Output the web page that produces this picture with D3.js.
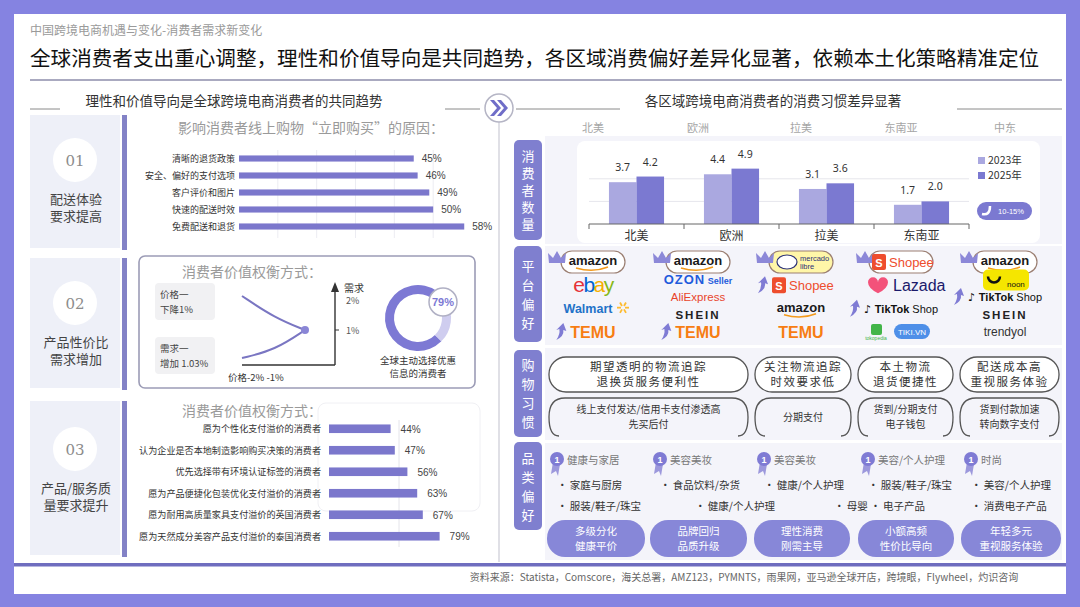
<!DOCTYPE html>
<html>
<head>
<meta charset="utf-8">
<script src="https://cdn.jsdelivr.net/npm/d3@7"></script>
<style>
    body { margin: 0; background: #8583e1; }
    svg { display: block; }
</style>
</head>
<body>
<script>
// ---- data ----
var subTitle = "中国跨境电商机遇与变化-消费者需求新变化";
var mainTitle = "全球消费者支出重心调整，理性和价值导向是共同趋势，各区域消费偏好差异化显著，依赖本土化策略精准定位";
var leftHeader = "理性和价值导向是全球跨境电商消费者的共同趋势";
var rightHeader = "各区域跨境电商消费者的消费习惯差异显著";

var sectionNums = ["01", "02", "03"];
var sectionNames = [["配送体验", "要求提高"], ["产品性价比", "需求增加"], ["产品/服务质", "量要求提升"]];

var buyTitle = "影响消费者线上购物“立即购买”的原因：";
var buyReasons = ["清晰的退货政策", "安全、偏好的支付选项", "客户评价和图片", "快速的配送时效", "免费配送和退货"];
var buyValues = [45, 46, 49, 50, 58];

var tradeTitle = "消费者价值权衡方式：";
var priceBox = ["价格一", "下降1%"];
var demandBox = ["需求一", "增加 1.03%"];
var demandAxis = ["需求", "2%", "1%"];
var priceAxis = "价格-2%  -1%";
var dealShare = 79;
var dealCaption = ["全球主动选择优惠", "信息的消费者"];

var premiumLabels = ["愿为个性化支付溢价的消费者", "认为企业是否本地制造影响购买决策的消费者", "优先选择带有环境认证标签的消费者",
    "愿为产品便捷化包装优化支付溢价的消费者", "愿为耐用高质量家具支付溢价的英国消费者", "愿为天然成分美容产品支付溢价的泰国消费者"];
var premiumValues = [44, 47, 56, 63, 67, 79];

var topRegions = ["北美", "欧洲", "拉美", "东南亚", "中东"];
var chartRegions = ["北美", "欧洲", "拉美", "东南亚"];
var years = ["2023年", "2025年"];
var consumers2023 = [3.7, 4.4, 3.1, 1.7];
var consumers2025 = [4.2, 4.9, 3.6, 2.0];
var growthLabel = "10-15%";

var rowTags = ["消费者数量", "平台偏好", "购物习惯", "品类偏好"];

var platforms = [
    ["amazon", "ebay", "Walmart", "TEMU"],
    ["amazon", "OZON Seller", "AliExpress", "SHEIN", "TEMU"],
    ["mercado libre", "Shopee", "amazon", "TEMU"],
    ["Shopee", "Lazada", "TikTok Shop", "tokopedia|TIKI.VN"],
    ["amazon", "noon", "TikTok Shop", "SHEIN", "trendyol"]
];
var risingPlatforms = [["TEMU"], ["TEMU"], ["Shopee"], ["TikTok Shop"], ["TikTok Shop"]];

var logistics = [["期望透明的物流追踪", "退换货服务便利性"], ["关注物流追踪", "时效要求低"], ["本土物流", "退货便捷性"], ["配送成本高", "重视服务体验"]];
var payments = [["线上支付发达/信用卡支付渗透高", "先买后付"], ["分期支付"], ["货到/分期支付", "电子钱包"], ["货到付款加速", "转向数字支付"]];

var topCategories = ["健康与家居", "美容美妆", "美容美妆", "美容/个人护理", "时尚"];
var categoryItems = [
    ["家庭与厨房", "服装/鞋子/珠宝"],
    ["食品饮料/杂货", "健康/个人护理"],
    ["健康/个人护理", "母婴 • 电子产品"],
    ["服装/鞋子/珠宝", ""],
    ["美容/个人护理", "消费电子产品"]
];
var trends = [["多级分化", "健康平价"], ["品牌回归", "品质升级"], ["理性消费", "刚需主导"], ["小额高频", "性价比导向"], ["年轻多元", "重视服务体验"]];

var sources = "资料来源：Statista，Comscore，海关总署，AMZ123，PYMNTS，雨果网，亚马逊全球开店，跨境眼，Flywheel，灼识咨询";

// ---- drawing ----
var CJK = "'Noto Sans CJK SC', 'Noto Sans', sans-serif";
var LAT = "'Liberation Sans', Arial, sans-serif";
var PURPLE = "#7b79d1";
var LIGHT = "#aaa8e0";

var svg = d3.select("body").append("svg")
    .attr("width", 1080)
    .attr("height", 607)
    .style("font-family", CJK);

svg.append("rect").attr("width", 1080).attr("height", 607).attr("fill", "#8583e1");
svg.append("rect").attr("x", 14).attr("y", 14).attr("width", 1052).attr("height", 580).attr("fill", "#fff");

/*****************  Titles **********************/

svg.append("text").attr("x", 30).attr("y", 35).text(subTitle)
    .attr("font-size", 12).attr("fill", "#9a9a9a");
svg.append("text").attr("x", 30).attr("y", 66).text(mainTitle)
    .attr("font-size", 20.6).attr("font-weight", 400).attr("fill", "#111");
svg.append("line").attr("x1", 30).attr("x2", 1062).attr("y1", 80).attr("y2", 80)
    .attr("stroke", "#8e8eab").attr("stroke-width", 1.6);

svg.append("text").attr("x", 234).attr("y", 106).attr("text-anchor", "middle").text(leftHeader)
    .attr("font-size", 13.5).attr("fill", "#333");
svg.append("text").attr("x", 773).attr("y", 106).attr("text-anchor", "middle").text(rightHeader)
    .attr("font-size", 13.5).attr("fill", "#333");

[[30, 60], [445, 480], [516, 620], [957, 1062]].forEach(function (d) {
    svg.append("line").attr("x1", d[0]).attr("x2", d[1]).attr("y1", 109).attr("y2", 109)
        .attr("stroke", "#8a8a8a").attr("stroke-width", 1);
});

svg.append("line").attr("x1", 499).attr("x2", 499).attr("y1", 120).attr("y2", 562)
    .attr("stroke", "#d6d6de").attr("stroke-width", 1.5);
svg.append("circle").attr("cx", 499).attr("cy", 108).attr("r", 14)
    .attr("fill", "#fff").attr("stroke", "#b5b5c5").attr("stroke-width", 1.5);
svg.append("path").attr("d", "M490,100 L497,108 L490,116 L494,116 L501,108 L494,100 Z M497,100 L504,108 L497,116 L501,116 L508,108 L501,100 Z")
    .attr("fill", "#6f6dc8");

/*****************  Left cards **********************/

var cardBoxes = [[115, 248], [258, 388], [401, 555]];
cardBoxes.forEach(function (b, i) {
    svg.append("rect").attr("x", 30).attr("y", b[0]).attr("width", 90).attr("height", b[1] - b[0])
        .attr("fill", "#eef0f8");
    svg.append("rect").attr("x", 122).attr("y", b[0]).attr("width", 5).attr("height", b[1] - b[0] + 2)
        .attr("fill", "#8382c6");
    var cy = b[0] + (i == 2 ? 48 : 45);
    svg.append("circle").attr("cx", 75).attr("cy", cy).attr("r", 22).attr("fill", "#fff");
    svg.append("text").attr("x", 75).attr("y", cy + 6).attr("text-anchor", "middle").text(sectionNums[i])
        .attr("font-family", "'DejaVu Serif', serif").attr("font-size", 15).attr("fill", "#8c8c8c");
    sectionNames[i].forEach(function (t, j) {
        svg.append("text").attr("x", 76).attr("y", cy + 44 + j * 17).attr("text-anchor", "middle").text(t)
            .attr("font-size", 13).attr("fill", "#444");
    });
});

/*****************  Section 1 bars **********************/

svg.append("text").attr("x", 178).attr("y", 133).text(buyTitle)
    .attr("font-size", 14).attr("fill", "#9a9a9a");

var bx = d3.scaleLinear().domain([0, 60]).range([239, 472]);
var by = d3.scaleBand().domain(buyReasons).range([150, 235]).paddingInner(0.64).paddingOuter(0.32);

svg.append("g").selectAll("line").data([10, 20, 30, 40, 50]).enter().append("line")
    .attr("x1", function (d) { return bx(d); }).attr("x2", function (d) { return bx(d); })
    .attr("y1", 150).attr("y2", 238).attr("stroke", "#ececf2");

svg.append("g").selectAll("rect").data(buyValues).enter().append("rect")
    .attr("x", bx(0))
    .attr("y", function (d, i) { return by(buyReasons[i]); })
    .attr("width", function (d) { return bx(d) - bx(0); })
    .attr("height", by.bandwidth())
    .attr("fill", "#7b77cc");

svg.append("g").selectAll("text").data(buyReasons).enter().append("text")
    .attr("x", 235).attr("y", function (d) { return by(d) + by.bandwidth() / 2 + 3.5; })
    .attr("text-anchor", "end").text(function (d) { return d; })
    .attr("font-size", 9).attr("fill", "#333");

svg.append("g").selectAll("text").data(buyValues).enter().append("text")
    .attr("x", function (d) { return bx(d) + 8; })
    .attr("y", function (d, i) { return by(buyReasons[i]) + by.bandwidth() / 2 + 3.5; })
    .text(function (d) { return d + "%"; })
    .attr("font-family", LAT).attr("font-size", 10).attr("fill", "#444");

/*****************  Section 2 trade-off **********************/

svg.append("rect").attr("x", 139).attr("y", 256).attr("width", 336).attr("height", 132).attr("rx", 6)
    .attr("fill", "#fff").attr("stroke", "#9c9cb6").attr("stroke-width", 1.6);
svg.append("text").attr("x", 182).attr("y", 277).text(tradeTitle)
    .attr("font-size", 14).attr("fill", "#9a9a9a");

[[283, priceBox], [337, demandBox]].forEach(function (b) {
    svg.append("rect").attr("x", 155).attr("y", b[0]).attr("width", 60).attr("height", 37).attr("rx", 4)
        .attr("fill", "#f1f1f3");
    b[1].forEach(function (t, j) {
        svg.append("text").attr("x", 160).attr("y", b[0] + 15 + j * 15).text(t)
            .attr("font-size", 9.5).attr("fill", "#444");
    });
});

var curve = d3.line().curve(d3.curveBasis);
svg.append("path").attr("d", curve([[242, 296], [275, 318], [305, 330]]))
    .attr("fill", "none").attr("stroke", "#7a76c2").attr("stroke-width", 2);
svg.append("path").attr("d", curve([[242, 358], [275, 350], [305, 330]]))
    .attr("fill", "none").attr("stroke", "#7a76c2").attr("stroke-width", 2);
svg.append("circle").attr("cx", 305).attr("cy", 330).attr("r", 4).attr("fill", "#8a86d6");

svg.append("line").attr("x1", 242).attr("x2", 335).attr("y1", 365).attr("y2", 365).attr("stroke", "#333").attr("stroke-width", 1.4);
svg.append("line").attr("x1", 335).attr("x2", 335).attr("y1", 365).attr("y2", 290).attr("stroke", "#333").attr("stroke-width", 1.4);
svg.append("path").attr("d", "M331,292 L335,282 L339,292 Z").attr("fill", "#333");
svg.append("line").attr("x1", 335).attr("x2", 339).attr("y1", 330).attr("y2", 330).attr("stroke", "#333");
svg.append("text").attr("x", 344).attr("y", 292).text(demandAxis[0]).attr("font-size", 10).attr("fill", "#333");
svg.append("text").attr("x", 346).attr("y", 304).text(demandAxis[1]).attr("font-size", 9).attr("fill", "#555");
svg.append("text").attr("x", 346).attr("y", 334).text(demandAxis[2]).attr("font-size", 9).attr("fill", "#555");
svg.append("text").attr("x", 228).attr("y", 381).text(priceAxis).attr("font-size", 9.5).attr("fill", "#333");

var pie = d3.pie().sort(null).startAngle(135 * Math.PI / 180).endAngle(495 * Math.PI / 180);
var arc = d3.arc().innerRadius(24).outerRadius(33);
svg.append("g").attr("transform", "translate(418,318)").selectAll("path")
    .data(pie([dealShare, 100 - dealShare])).enter().append("path")
    .attr("d", arc)
    .attr("fill", function (d, i) { return i == 0 ? "#7d79d4" : "#cfcdef"; });
svg.append("circle").attr("cx", 443).attr("cy", 302).attr("r", 14)
    .attr("fill", "#fff").attr("stroke", "#b0b0c4").attr("stroke-width", 1.5);
svg.append("text").attr("x", 443).attr("y", 306).attr("text-anchor", "middle").text(dealShare + "%")
    .attr("font-family", LAT).attr("font-weight", "bold").attr("font-size", 11).attr("fill", "#7d79d4");
dealCaption.forEach(function (t, j) {
    svg.append("text").attr("x", 418).attr("y", 364 + j * 13).attr("text-anchor", "middle").text(t)
        .attr("font-size", 9.5).attr("fill", "#333");
});

/*****************  Section 3 bars **********************/

svg.append("rect").attr("x", 318).attr("y", 403).attr("width", 162).attr("height", 108).attr("rx", 8)
    .attr("fill", "#fff").attr("stroke", "#f0f0f4");
svg.append("text").attr("x", 182).attr("y", 416).text(tradeTitle)
    .attr("font-size", 14).attr("fill", "#9a9a9a");

var px = d3.scaleLinear().domain([0, 100]).range([329, 469]);
var py = d3.scaleBand().domain(premiumLabels).range([418, 547]).paddingInner(0.6).paddingOuter(0.3);

svg.append("line").attr("x1", px(50)).attr("x2", px(50)).attr("y1", 420).attr("y2", 547).attr("stroke", "#e4e4ea");

svg.append("g").selectAll("rect").data(premiumValues).enter().append("rect")
    .attr("x", px(0))
    .attr("y", function (d, i) { return py(premiumLabels[i]); })
    .attr("width", function (d) { return px(d) - px(0); })
    .attr("height", py.bandwidth())
    .attr("fill", "#7b77cc");

svg.append("g").selectAll("text").data(premiumLabels).enter().append("text")
    .attr("x", 321).attr("y", function (d) { return py(d) + py.bandwidth() / 2 + 3.5; })
    .attr("text-anchor", "end").text(function (d) { return d; })
    .attr("font-size", 9.1).attr("fill", "#333");

svg.append("g").selectAll("text").data(premiumValues).enter().append("text")
    .attr("x", function (d) { return px(d) + 10; })
    .attr("y", function (d, i) { return py(premiumLabels[i]) + py.bandwidth() / 2 + 4; })
    .text(function (d) { return d + "%"; })
    .attr("font-family", LAT).attr("font-size", 10).attr("fill", "#444");

/*****************  Right side rows **********************/

var rowBoxes = [[136, 244], [246, 345], [348, 440], [443, 560]];
var tagBoxes = [[140, 240], [246, 342], [350, 437], [442, 530]];
rowBoxes.forEach(function (b) {
    svg.append("rect").attr("x", 545).attr("y", b[0]).attr("width", 517).attr("height", b[1] - b[0])
        .attr("fill", "#f4f4fa");
});
tagBoxes.forEach(function (b, i) {
    svg.append("rect").attr("x", 514).attr("y", b[0]).attr("width", 28).attr("height", b[1] - b[0]).attr("rx", 5)
        .attr("fill", "#7f7fcf");
    var chars = rowTags[i].split("");
    var step = chars.length == 5 ? 17 : 19;
    var mid = (b[0] + b[1]) / 2;
    chars.forEach(function (c, j) {
        svg.append("text").attr("x", 528).attr("y", mid + (j - (chars.length - 1) / 2) * step + 5)
            .attr("text-anchor", "middle").text(c)
            .attr("font-size", 13).attr("fill", "#fff");
    });
});

var colCenters = [593, 698, 801, 901, 1005];
topRegions.forEach(function (r, i) {
    svg.append("text").attr("x", colCenters[i]).attr("y", 132).attr("text-anchor", "middle").text(r)
        .attr("font-size", 11).attr("fill", "#a5a5a5");
});

/*****************  Consumer count bars **********************/

svg.append("rect").attr("x", 577).attr("y", 141).attr("width", 463).attr("height", 102).attr("rx", 8)
    .attr("fill", "#fff");

var x0 = d3.scaleBand().domain(chartRegions).range([589, 969]).paddingInner(0.42).paddingOuter(0.21);
var x1 = d3.scaleBand().domain(years).range([0, x0.bandwidth()]);
var y = d3.scaleLinear().domain([0, 5]).range([224, 167.5]);

svg.append("g").selectAll("line").data(y.ticks(3).filter(function (d) { return d > 0; })).enter().append("line")
    .attr("x1", 589).attr("x2", 969)
    .attr("y1", function (d) { return y(d); }).attr("y2", function (d) { return y(d); })
    .attr("stroke", "#e6e6ec");

var series = [consumers2023, consumers2025];
series.forEach(function (vals, s) {
    svg.append("g").selectAll("rect").data(vals).enter().append("rect")
        .attr("x", function (d, i) { return x0(chartRegions[i]) + x1(years[s]); })
        .attr("y", function (d) { return y(d); })
        .attr("width", x1.bandwidth())
        .attr("height", function (d) { return y(0) - y(d); })
        .attr("fill", s == 0 ? LIGHT : PURPLE);
    svg.append("g").selectAll("text").data(vals).enter().append("text")
        .attr("x", function (d, i) { return x0(chartRegions[i]) + x1(years[s]) + x1.bandwidth() / 2; })
        .attr("y", function (d) { return y(d) - 11; })
        .attr("text-anchor", "middle")
        .text(function (d) { return d.toFixed(1); })
        .attr("font-family", "'Noto Sans', sans-serif").attr("font-size", 10.5).attr("fill", "#333");
});

var xAxis = svg.append("g").attr("transform", "translate(0,224)")
    .call(d3.axisBottom(x0).tickSize(0).tickPadding(7));
xAxis.select(".domain").attr("stroke", "#666").attr("d", "M589,0H969");
xAxis.selectAll("text").attr("font-family", CJK).attr("font-size", 12).attr("fill", "#333");
var edges = chartRegions.map(function (d) { return x0(d) - x0.step() * 0.21; });
edges.push(969);
xAxis.selectAll(".edge").data(edges).enter().append("line")
    .attr("x1", function (d) { return d; }).attr("x2", function (d) { return d; })
    .attr("y1", 0).attr("y2", 5).attr("stroke", "#666");

years.forEach(function (yr, i) {
    svg.append("rect").attr("x", 978).attr("y", 157 + i * 15).attr("width", 7).attr("height", 7)
        .attr("fill", i == 0 ? LIGHT : PURPLE);
    svg.append("text").attr("x", 988).attr("y", 164 + i * 15).text(yr)
        .attr("font-size", 10.5).attr("fill", "#333");
});
svg.append("rect").attr("x", 977).attr("y", 202).attr("width", 55).attr("height", 18).attr("rx", 9).attr("fill", PURPLE);
svg.append("path").attr("d", "M982,214 Q990,216 990,206").attr("fill", "none").attr("stroke", "#fff").attr("stroke-width", 2.5);
svg.append("text").attr("x", 1011).attr("y", 214).attr("text-anchor", "middle").text(growthLabel)
    .attr("font-family", LAT).attr("font-size", 7.5).attr("fill", "#fff");

/*****************  Platform logos **********************/

function crown(cx, cy) {
    svg.append("path")
        .attr("d", "M" + (cx - 8) + "," + (cy + 5) + " L" + (cx - 9) + "," + (cy - 5) + " L" + (cx - 4) + "," + cy +
            " L" + cx + "," + (cy - 7) + " L" + (cx + 4) + "," + cy + " L" + (cx + 9) + "," + (cy - 5) + " L" + (cx + 8) + "," + (cy + 5) + " Z")
        .attr("fill", "#8c88d8");
}

function riseArrow(x, cy) {
    svg.append("path")
        .attr("d", "M" + (x - 6) + "," + (cy + 8) + " Q" + (x - 2) + "," + (cy + 2) + " " + (x - 3) + "," + (cy - 3) +
            " L" + (x - 6) + "," + (cy - 2) + " L" + (x + 1) + "," + (cy - 9) + " L" + (x + 4) + "," + (cy - 1) +
            " L" + (x + 1) + "," + (cy - 2) + " Q" + (x + 2) + "," + (cy + 4) + " " + (x - 6) + "," + (cy + 8) + " Z")
        .attr("fill", "#7f7bd4");
}

function drawLogo(name, cx, cy) {
    var g = svg.append("g");
    if (name == "amazon") {
        g.append("text").attr("x", cx).attr("y", cy + 3).attr("text-anchor", "middle").text("amazon")
            .attr("font-family", LAT).attr("font-weight", "bold").attr("font-size", 13).attr("fill", "#1a1a1a");
        g.append("path").attr("d", "M" + (cx - 17) + "," + (cy + 6) + " Q" + cx + "," + (cy + 11) + " " + (cx + 15) + "," + (cy + 5))
            .attr("fill", "none").attr("stroke", "#f39a1c").attr("stroke-width", 1.6);
    } else if (name == "ebay") {
        var t = g.append("text").attr("x", cx).attr("y", cy + 7).attr("text-anchor", "middle")
            .attr("font-family", LAT).attr("font-size", 21).attr("letter-spacing", -1.5);
        [["e", "#e53238"], ["b", "#0064d2"], ["a", "#f5af02"], ["y", "#86b817"]].forEach(function (p) {
            t.append("tspan").text(p[0]).attr("fill", p[1]);
        });
    } else if (name == "Walmart") {
        g.append("text").attr("x", cx - 5).attr("y", cy + 4).attr("text-anchor", "middle").text("Walmart")
            .attr("font-family", LAT).attr("font-weight", "bold").attr("font-size", 12.5).attr("fill", "#1f72c8");
        for (var k = 0; k < 6; k++) {
            var a = k * Math.PI / 3;
            g.append("line").attr("x1", cx + 30 + Math.cos(a) * 2).attr("y1", cy - 1 + Math.sin(a) * 2)
                .attr("x2", cx + 30 + Math.cos(a) * 6).attr("y2", cy - 1 + Math.sin(a) * 6)
                .attr("stroke", "#fdbb30").attr("stroke-width", 1.8);
        }
    } else if (name == "TEMU") {
        g.append("text").attr("x", cx).attr("y", cy + 6).attr("text-anchor", "middle").text("TEMU")
            .attr("font-family", LAT).attr("font-weight", "bold").attr("font-size", 16).attr("fill", "#f77d12");
    } else if (name == "OZON Seller") {
        var o = g.append("text").attr("x", cx).attr("y", cy + 4).attr("text-anchor", "middle")
            .attr("font-family", LAT).attr("font-weight", "bold").attr("fill", "#1f5bdc");
        o.append("tspan").text("OZON").attr("font-size", 13).attr("letter-spacing", 1);
        o.append("tspan").text(" Seller").attr("font-size", 9);
    } else if (name == "AliExpress") {
        g.append("text").attr("x", cx).attr("y", cy + 4).attr("text-anchor", "middle").text("AliExpress")
            .attr("font-family", LAT).attr("font-size", 11.5).attr("fill", "#e8442a");
    } else if (name == "SHEIN") {
        g.append("text").attr("x", cx).attr("y", cy + 4).attr("text-anchor", "middle").text("SHEIN")
            .attr("font-family", LAT).attr("font-weight", "bold").attr("font-size", 11.5)
            .attr("letter-spacing", 2).attr("fill", "#222");
    } else if (name == "mercado libre") {
        g.append("ellipse").attr("cx", cx - 14).attr("cy", cy).attr("rx", 10).attr("ry", 7)
            .attr("fill", "#fff").attr("stroke", "#2d3277").attr("stroke-width", 1.2);
        g.append("text").attr("x", cx - 1).attr("y", cy - 1).text("mercado")
            .attr("font-family", LAT).attr("font-size", 7.5).attr("fill", "#2d3277");
        g.append("text").attr("x", cx - 1).attr("y", cy + 7).text("libre")
            .attr("font-family", LAT).attr("font-size", 7.5).attr("fill", "#2d3277");
    } else if (name == "Shopee") {
        g.append("rect").attr("x", cx - 29).attr("y", cy - 8).attr("width", 14).attr("height", 16).attr("rx", 2)
            .attr("fill", "#ee4d2d");
        g.append("text").attr("x", cx - 22).attr("y", cy + 5).attr("text-anchor", "middle").text("S")
            .attr("font-family", LAT).attr("font-weight", "bold").attr("font-size", 11).attr("fill", "#fff");
        g.append("text").attr("x", cx - 12).attr("y", cy + 5).text("Shopee")
            .attr("font-family", LAT).attr("font-size", 13).attr("fill", "#ee4d2d");
    } else if (name == "Lazada") {
        g.append("path").attr("d", "M" + (cx - 33) + "," + (cy - 3) + " a5,5 0 0,1 10,0 a5,5 0 0,1 10,0 q0,6 -10,11 q-10,-5 -10,-11 z")
            .attr("fill", "#f3527a");
        g.append("text").attr("x", cx - 8).attr("y", cy + 6).text("Lazada")
            .attr("font-family", LAT).attr("font-size", 16).attr("fill", "#1b1a6b");
    } else if (name == "TikTok Shop") {
        var tk = g.append("text").attr("x", cx).attr("y", cy + 4).attr("text-anchor", "middle")
            .attr("font-family", LAT).attr("font-size", 11).attr("fill", "#111");
        tk.append("tspan").text("♪ ").attr("font-family", "'DejaVu Sans'").attr("font-weight", "bold");
        tk.append("tspan").text("TikTok").attr("font-weight", "bold");
        tk.append("tspan").text(" Shop");
    } else if (name == "tokopedia|TIKI.VN") {
        g.append("rect").attr("x", cx - 30).attr("y", cy - 8).attr("width", 11).attr("height", 11).attr("rx", 2).attr("fill", "#42b549");
        g.append("text").attr("x", cx - 25).attr("y", cy + 8).attr("text-anchor", "middle").text("tokopedia")
            .attr("font-family", LAT).attr("font-size", 5).attr("fill", "#42b549");
        g.append("rect").attr("x", cx - 7).attr("y", cy - 8).attr("width", 36).attr("height", 15).attr("rx", 7.5).attr("fill", "#4e8fe8");
        g.append("text").attr("x", cx + 11).attr("y", cy + 3).attr("text-anchor", "middle").text("TIKI.VN")
            .attr("font-family", LAT).attr("font-size", 8).attr("fill", "#fff");
    } else if (name == "noon") {
        g.append("rect").attr("x", cx - 22).attr("y", cy - 10).attr("width", 46).attr("height", 21).attr("rx", 5).attr("fill", "#f5e600");
        g.append("path").attr("d", "M" + (cx - 17) + "," + (cy - 3) + " a6,6 0 1,0 12,0").attr("fill", "none").attr("stroke", "#111").attr("stroke-width", 2.5);
        g.append("text").attr("x", cx + 2).attr("y", cy + 7).text("noon")
            .attr("font-family", LAT).attr("font-size", 8).attr("fill", "#111");
    } else if (name == "trendyol") {
        g.append("text").attr("x", cx).attr("y", cy + 4).attr("text-anchor", "middle").text("trendyol")
            .attr("font-family", LAT).attr("font-size", 12).attr("fill", "#333");
    }
    return g;
}

platforms.forEach(function (col, c) {
    var py0 = 262, py1 = 332;
    col.forEach(function (name, i) {
        var cy = py0 + (py1 - py0) * i / (col.length - 1);
        var cx = colCenters[c];
        if (i == 0) {
            svg.append("rect").attr("x", cx - 32).attr("y", cy - 11).attr("width", 64).attr("height", 22).attr("rx", 11)
                .attr("fill", name == "mercado libre" ? "#fff6a8" : "#fff").attr("stroke", "#9b7f72").attr("stroke-width", 1.2);
            crown(cx - 36, cy - 4);
        }
        var g = drawLogo(name, cx, cy);
        if (risingPlatforms[c].indexOf(name) >= 0) {
            var bb = g.node().getBBox();
            riseArrow(bb.x - 8, cy);
        }
    });
});

/*****************  Shopping habits **********************/

var habitCols = [[549, 748], [755, 851], [858, 953], [960, 1059]];

habitCols.forEach(function (hc, i) {
    svg.append("rect").attr("x", hc[0]).attr("y", 357).attr("width", hc[1] - hc[0]).attr("height", 35).attr("rx", 17)
        .attr("fill", "#fff").attr("stroke", "#555").attr("stroke-width", 1.3);
    logistics[i].forEach(function (t, j) {
        svg.append("text").attr("x", (hc[0] + hc[1]) / 2).attr("y", 371 + j * 15).attr("text-anchor", "middle").text(t)
            .attr("font-size", 11.5).attr("letter-spacing", 1.5).attr("fill", "#333");
    });
    var x0p = hc[0], x1p = hc[1], t0 = 398, t1 = 436, tm = 417;
    svg.append("path")
        .attr("d", "M" + (x0p + 10) + "," + t1 + " Q" + x0p + "," + t1 + " " + x0p + "," + tm +
            " Q" + x0p + "," + t0 + " " + (x0p + 16) + "," + t0 + " L" + (x1p - 16) + "," + t0 +
            " Q" + x1p + "," + t0 + " " + x1p + "," + tm + " Q" + x1p + "," + t1 + " " + (x1p - 10) + "," + t1)
        .attr("fill", "none").attr("stroke", "#555").attr("stroke-width", 1.3);
    var lines = payments[i];
    lines.forEach(function (t, j) {
        svg.append("text").attr("x", (hc[0] + hc[1]) / 2)
            .attr("y", (lines.length == 1 ? 421 : 413 + j * 15)).attr("text-anchor", "middle").text(t)
            .attr("font-size", 10).attr("fill", "#333");
    });
});

/*****************  Category preferences **********************/

var catCols = [[547, 645], [650, 747], [754, 850], [858, 954], [961, 1061]];
var row2Shift = [0, 35, 70, 0, 0];

catCols.forEach(function (cc, i) {
    var ix = cc[0] + 10;
    svg.append("path").attr("d", "M" + (ix - 4) + "," + 462 + " L" + (ix - 6) + "," + 474 + " L" + (ix - 1) + "," + 471 +
        " L" + (ix + 1) + "," + 476 + " L" + (ix + 3) + "," + 464 + " Z").attr("fill", "#9c98dc");
    svg.append("circle").attr("cx", ix).attr("cy", 459).attr("r", 7).attr("fill", "#7f7bd4");
    svg.append("text").attr("x", ix).attr("y", 462.5).attr("text-anchor", "middle").text("1")
        .attr("font-family", LAT).attr("font-weight", "bold").attr("font-size", 9).attr("fill", "#fff");
    svg.append("text").attr("x", ix + 10).attr("y", 464).text(topCategories[i])
        .attr("font-size", 10.5).attr("fill", "#777");
    categoryItems[i].forEach(function (t, j) {
        if (t == "") return;
        svg.append("text").attr("x", cc[0] + 10 + (j == 1 ? row2Shift[i] : 0)).attr("y", 489 + j * 21).text("•  " + t)
            .attr("font-size", 10.5).attr("fill", "#333");
    });
    svg.append("rect").attr("x", cc[0]).attr("y", 520).attr("width", cc[1] - cc[0]).attr("height", 37).attr("rx", 18)
        .attr("fill", "#8787d8");
    trends[i].forEach(function (t, j) {
        svg.append("text").attr("x", (cc[0] + cc[1]) / 2).attr("y", 535 + j * 15).attr("text-anchor", "middle").text(t)
            .attr("font-size", 10.5).attr("fill", "#fff");
    });
});

/*****************  Footer **********************/

svg.append("rect").attr("x", 14).attr("y", 563).attr("width", 1052).attr("height", 3.5).attr("fill", "#6f6dbf");
svg.append("text").attr("x", 744).attr("y", 581).attr("text-anchor", "middle").text(sources)
    .attr("font-size", 10).attr("fill", "#666");
</script>
</body>
</html>
